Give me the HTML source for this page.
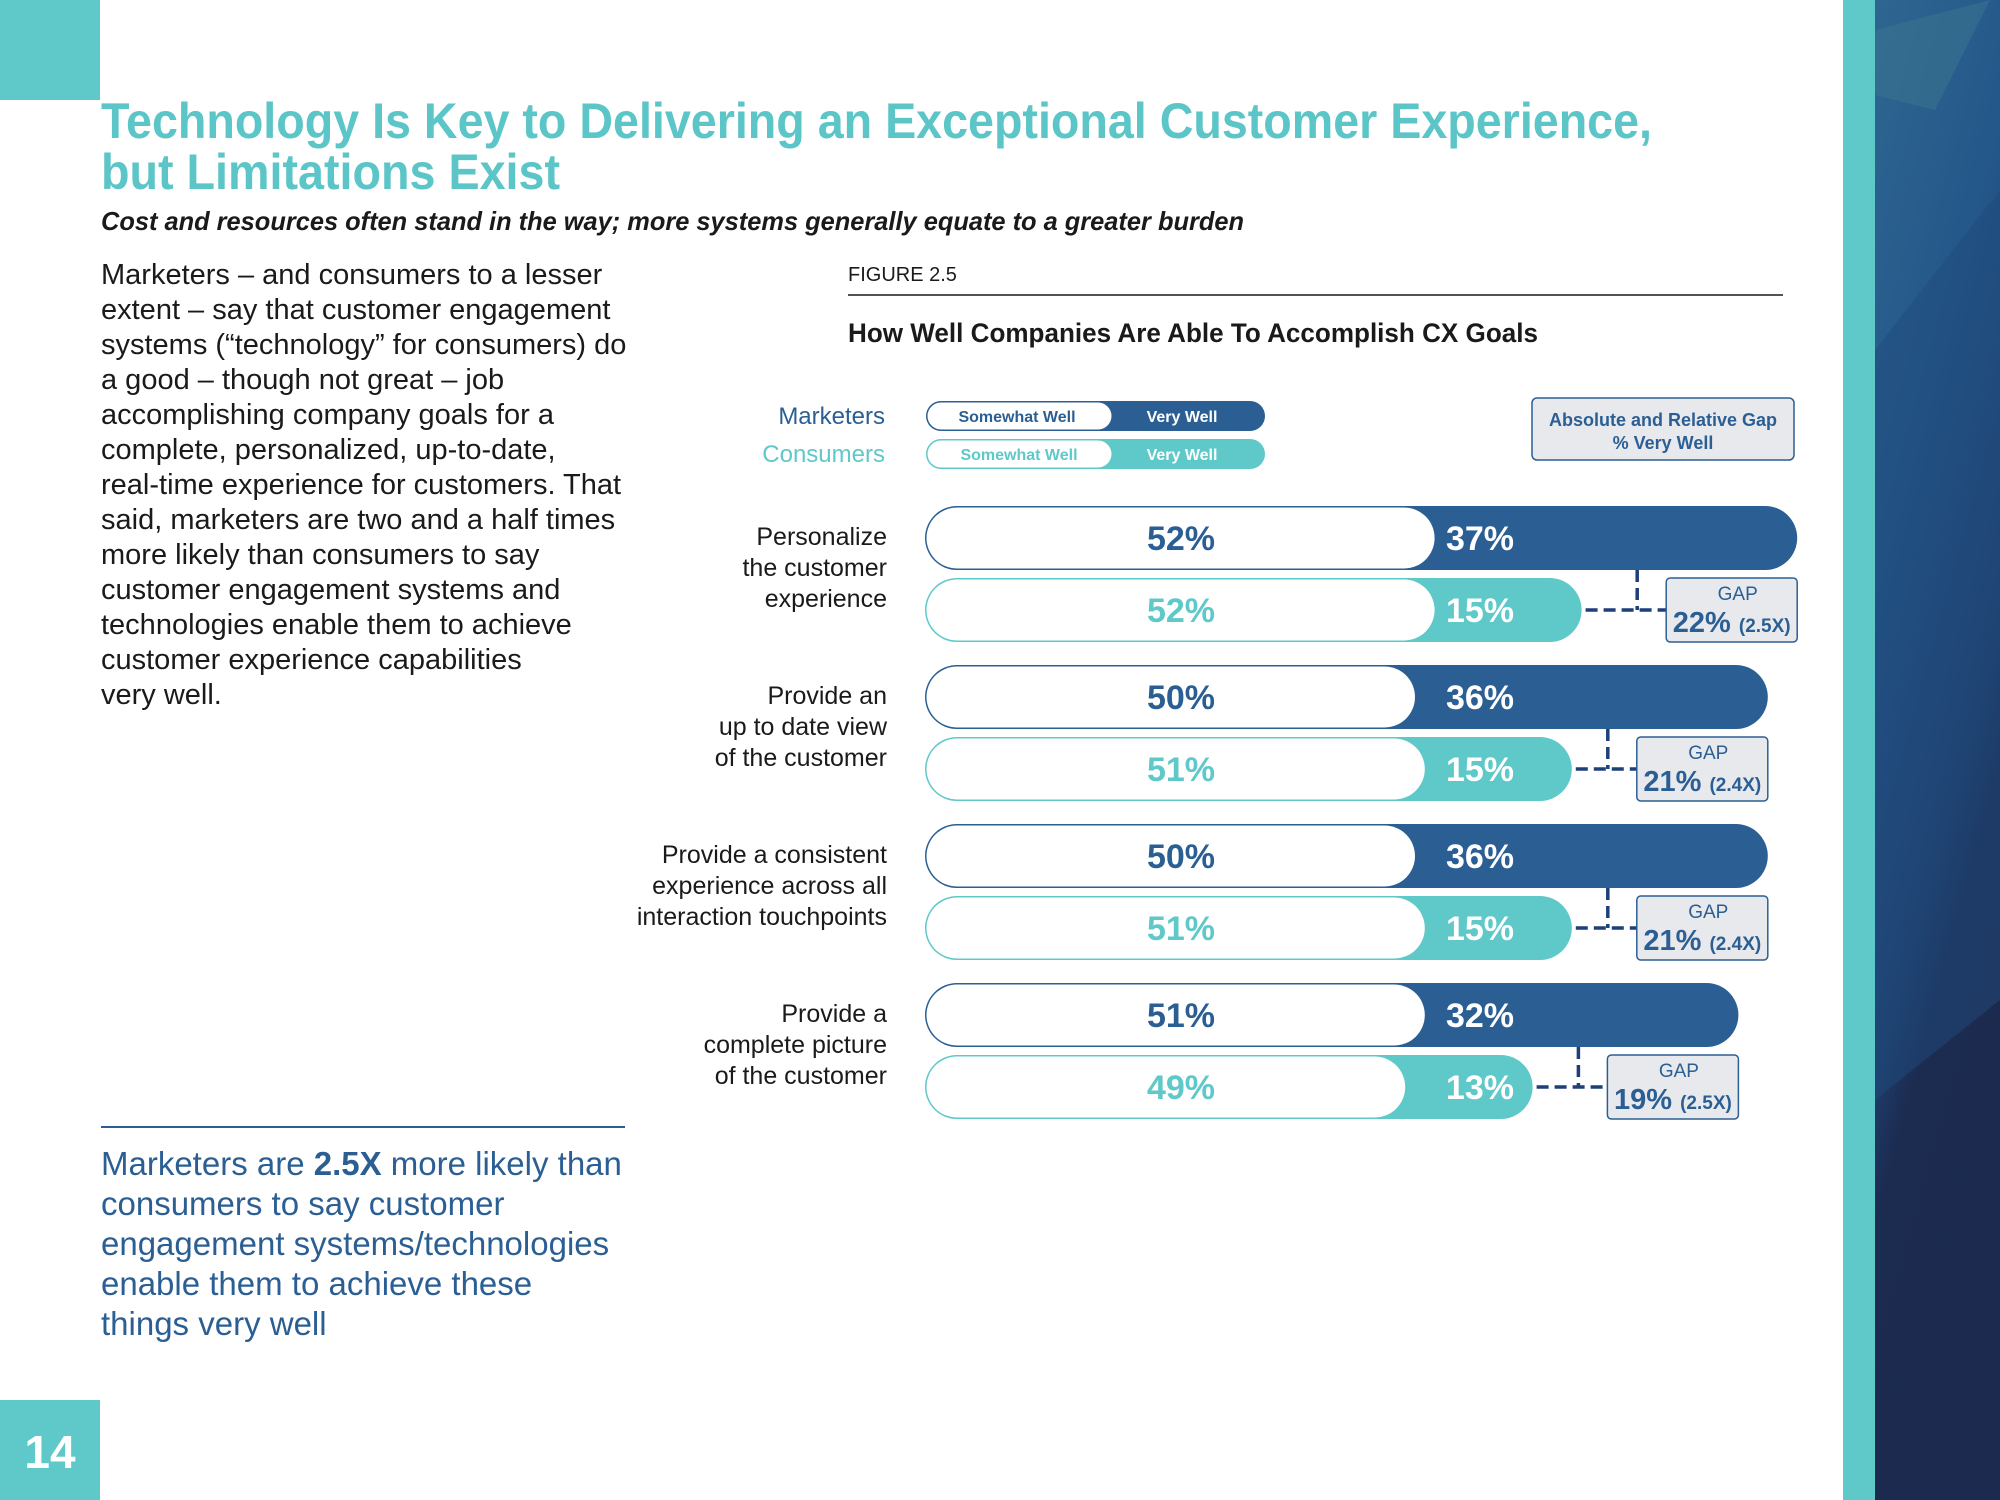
<!DOCTYPE html>
<html><head><meta charset="utf-8">
<style>
html,body{margin:0;padding:0;background:#fff}
svg{display:block}
text{font-family:"Liberation Sans",sans-serif}
</style></head>
<body>
<svg id="page" width="2000" height="1500" viewBox="0 0 2000 1500" xmlns="http://www.w3.org/2000/svg">
<defs>
<linearGradient id="bg" x1="0" y1="0" x2="0.3" y2="1">
<stop offset="0" stop-color="#2e6690"/><stop offset="0.35" stop-color="#24578a"/><stop offset="0.65" stop-color="#1e3f6d"/><stop offset="0.75" stop-color="#1c2b50"/><stop offset="1" stop-color="#1b2a4e"/>
</linearGradient>
</defs>
<rect x="0" y="0" width="100" height="100" fill="#5fc8c9"/>
<rect x="1843" y="0" width="32" height="1500" fill="#5fc8c9"/>
<rect x="1875" y="0" width="125" height="1500" fill="url(#bg)"/>
<polygon points="1875,30 1990,0 1935,110 1875,95" fill="#3b7590" opacity="0.5"/>
<polygon points="1875,350 2000,190 2000,1000 1875,1100" fill="#1f4a7c" opacity="0.5"/>

<text x="101" y="138" font-size="50" font-weight="bold" fill="#5bc5c7" textLength="1551" lengthAdjust="spacingAndGlyphs">Technology Is Key to Delivering an Exceptional Customer Experience,</text>
<text x="101" y="189" font-size="50" font-weight="bold" fill="#5bc5c7" textLength="459" lengthAdjust="spacingAndGlyphs">but Limitations Exist</text>
<text x="101" y="230" font-size="26" font-weight="bold" font-style="italic" fill="#1a1a1a" textLength="1143" lengthAdjust="spacingAndGlyphs">Cost and resources often stand in the way; more systems generally equate to a greater burden</text>

<g font-size="29" fill="#1a1a1a">
<text x="101" y="284">Marketers – and consumers to a lesser</text>
<text x="101" y="319">extent – say that customer engagement</text>
<text x="101" y="354">systems (“technology” for consumers) do</text>
<text x="101" y="389">a good – though not great – job</text>
<text x="101" y="424">accomplishing company goals for a</text>
<text x="101" y="459">complete, personalized, up-to-date,</text>
<text x="101" y="494">real-time experience for customers. That</text>
<text x="101" y="529">said, marketers are two and a half times</text>
<text x="101" y="564">more likely than consumers to say</text>
<text x="101" y="599">customer engagement systems and</text>
<text x="101" y="634">technologies enable them to achieve</text>
<text x="101" y="669">customer experience capabilities</text>
<text x="101" y="704">very well.</text>
</g>
<line x1="101" y1="1127" x2="625" y2="1127" stroke="#2b5f94" stroke-width="2"/>
<g font-size="33" fill="#2b5f94">
<text x="101" y="1175">Marketers are <tspan font-weight="bold">2.5X</tspan> more likely than</text>
<text x="101" y="1215">consumers to say customer</text>
<text x="101" y="1255">engagement systems/technologies</text>
<text x="101" y="1295">enable them to achieve these</text>
<text x="101" y="1335">things very well</text>
</g>
<rect x="0" y="1400" width="100" height="100" fill="#5fc8c9"/>
<text x="50" y="1468" font-size="46" font-weight="bold" fill="#fff" text-anchor="middle">14</text>

<text x="848" y="281" font-size="20" fill="#1a1a1a">FIGURE 2.5</text>
<line x1="848" y1="295" x2="1783" y2="295" stroke="#1a1a1a" stroke-width="1.5"/>
<text x="848" y="342" font-size="27" font-weight="bold" fill="#1a1a1a" textLength="690" lengthAdjust="spacingAndGlyphs">How Well Companies Are Able To Accomplish CX Goals</text>

<g>
<text x="885" y="424" font-size="24" fill="#2b5f94" text-anchor="end">Marketers</text>
<text x="885" y="462" font-size="24" fill="#5fc8c9" text-anchor="end">Consumers</text>
<rect x="926" y="401" width="339" height="30" rx="15" fill="#2b5f94"/>
<rect x="927.5" y="402.5" width="184" height="27" rx="13.5" fill="#fff"/>
<text x="1017" y="422" font-size="16" font-weight="bold" fill="#2b5f94" text-anchor="middle">Somewhat Well</text>
<text x="1182" y="422" font-size="16" font-weight="bold" fill="#fff" text-anchor="middle">Very Well</text>
<rect x="926" y="439" width="339" height="30" rx="15" fill="#5fc8c9"/>
<rect x="927.5" y="440.5" width="184" height="27" rx="13.5" fill="#fff"/>
<text x="1019" y="460" font-size="16" font-weight="bold" fill="#5fc8c9" text-anchor="middle">Somewhat Well</text>
<text x="1182" y="460" font-size="16" font-weight="bold" fill="#fff" text-anchor="middle">Very Well</text>
<rect x="1532" y="398" width="262" height="62" rx="5" fill="#e8e9ec" stroke="#2b5f94" stroke-width="1.5"/>
<text x="1663" y="426" font-size="18" font-weight="bold" fill="#2b5f94" text-anchor="middle">Absolute and Relative Gap</text>
<text x="1663" y="449" font-size="18" font-weight="bold" fill="#2b5f94" text-anchor="middle">% Very Well</text>
</g>
<g id="chart"></g>
</svg>
<script>
const categories = [["Personalize","the customer","experience"],["Provide an","up to date view","of the customer"],["Provide a  consistent","experience across all","interaction touchpoints"],["Provide a","complete picture","of the customer"]];
const marketersSomewhat = [52, 50, 50, 51];
const marketersVery = [37, 36, 36, 32];
const consumersSomewhat = [52, 51, 51, 49];
const consumersVery = [15, 15, 15, 13];
const gapValues = [22, 21, 21, 19];
const gapRatios = ["2.5X", "2.4X", "2.4X", "2.5X"];

const NS = "http://www.w3.org/2000/svg";
const g = document.getElementById("chart");
const X0 = 925, PX = 9.8, H = 64, ROW = 159, TOP = 506, PAIR = 72;
const DARK = "#2b5f94", TEAL = "#5fc8c9";
function xs(v){ return X0 + v*PX; }
function mk(tag, attrs, parent){ const e=document.createElementNS(NS,tag); for(const k in attrs) e.setAttribute(k,attrs[k]); (parent||g).appendChild(e); return e; }
function txt(s, attrs){ const e=mk("text",attrs); e.textContent=s; return e; }

function drawBar(y, some, very, color, kind, i){
  const end = xs(some+very), split = xs(some);
  const full = mk("rect",{x:X0,y:y,width:end-X0,height:H,rx:H/2,fill:color});
  
  
  const w = mk("rect",{x:X0+1.5,y:y+1.5,width:split-X0-1.5,height:H-3,rx:(H-3)/2,fill:"#fff"});
  
  
  const l1 = txt(some+"%",{x:1181,y:y+H/2+12,"font-size":34,"font-weight":"bold",fill:color,"text-anchor":"middle"});
  
  
  const l2 = txt(very+"%",{x:1480,y:y+H/2+12,"font-size":34,"font-weight":"bold",fill:"#fff","text-anchor":"middle"});
  
  
  return end;
}

categories.forEach((cat,i)=>{
  const my = TOP + i*ROW, cy = my + PAIR;
  const mEnd = drawBar(my, marketersSomewhat[i], marketersVery[i], DARK, "marketers", i);
  const cEnd = drawBar(cy, consumersSomewhat[i], consumersVery[i], TEAL, "consumers", i);
  const mid = my + 62;
  cat.forEach((line,j)=>{
    const t = txt(line,{x:887,y:mid+(j-1)*31+8,"font-size":25,fill:"#1a1a1a","text-anchor":"end"});
    
    
  });
  const bw = 131, bx = mEnd - bw, vx = bx - 29, ccy = cy + H/2;
  const d1 = mk("path",{d:`M${vx},${my+H} L${vx},${ccy} M${cEnd+4},${ccy} L${bx},${ccy}`,stroke:"#1e3f7a","stroke-width":3.5,"stroke-dasharray":"12,6",fill:"none"});
  
  
  const box = mk("rect",{x:bx,y:cy,width:bw,height:H,rx:4,fill:"#e8e9ec",stroke:DARK,"stroke-width":1.5});
  
  
  const gl = txt("GAP",{x:bx+bw/2+6,y:cy+22,"font-size":19,fill:DARK,"text-anchor":"middle"});
  
  
  const gv = txt("",{x:bx+bw/2,y:cy+54,"font-size":29,"font-weight":"bold",fill:DARK,"text-anchor":"middle"});
  
  
  const t1 = document.createElementNS(NS,"tspan"); t1.textContent = gapValues[i]+"% "; gv.appendChild(t1);
  const t2 = document.createElementNS(NS,"tspan"); t2.setAttribute("font-size","19"); t2.textContent="("+gapRatios[i]+")"; gv.appendChild(t2);
});
</script>
</body></html>
